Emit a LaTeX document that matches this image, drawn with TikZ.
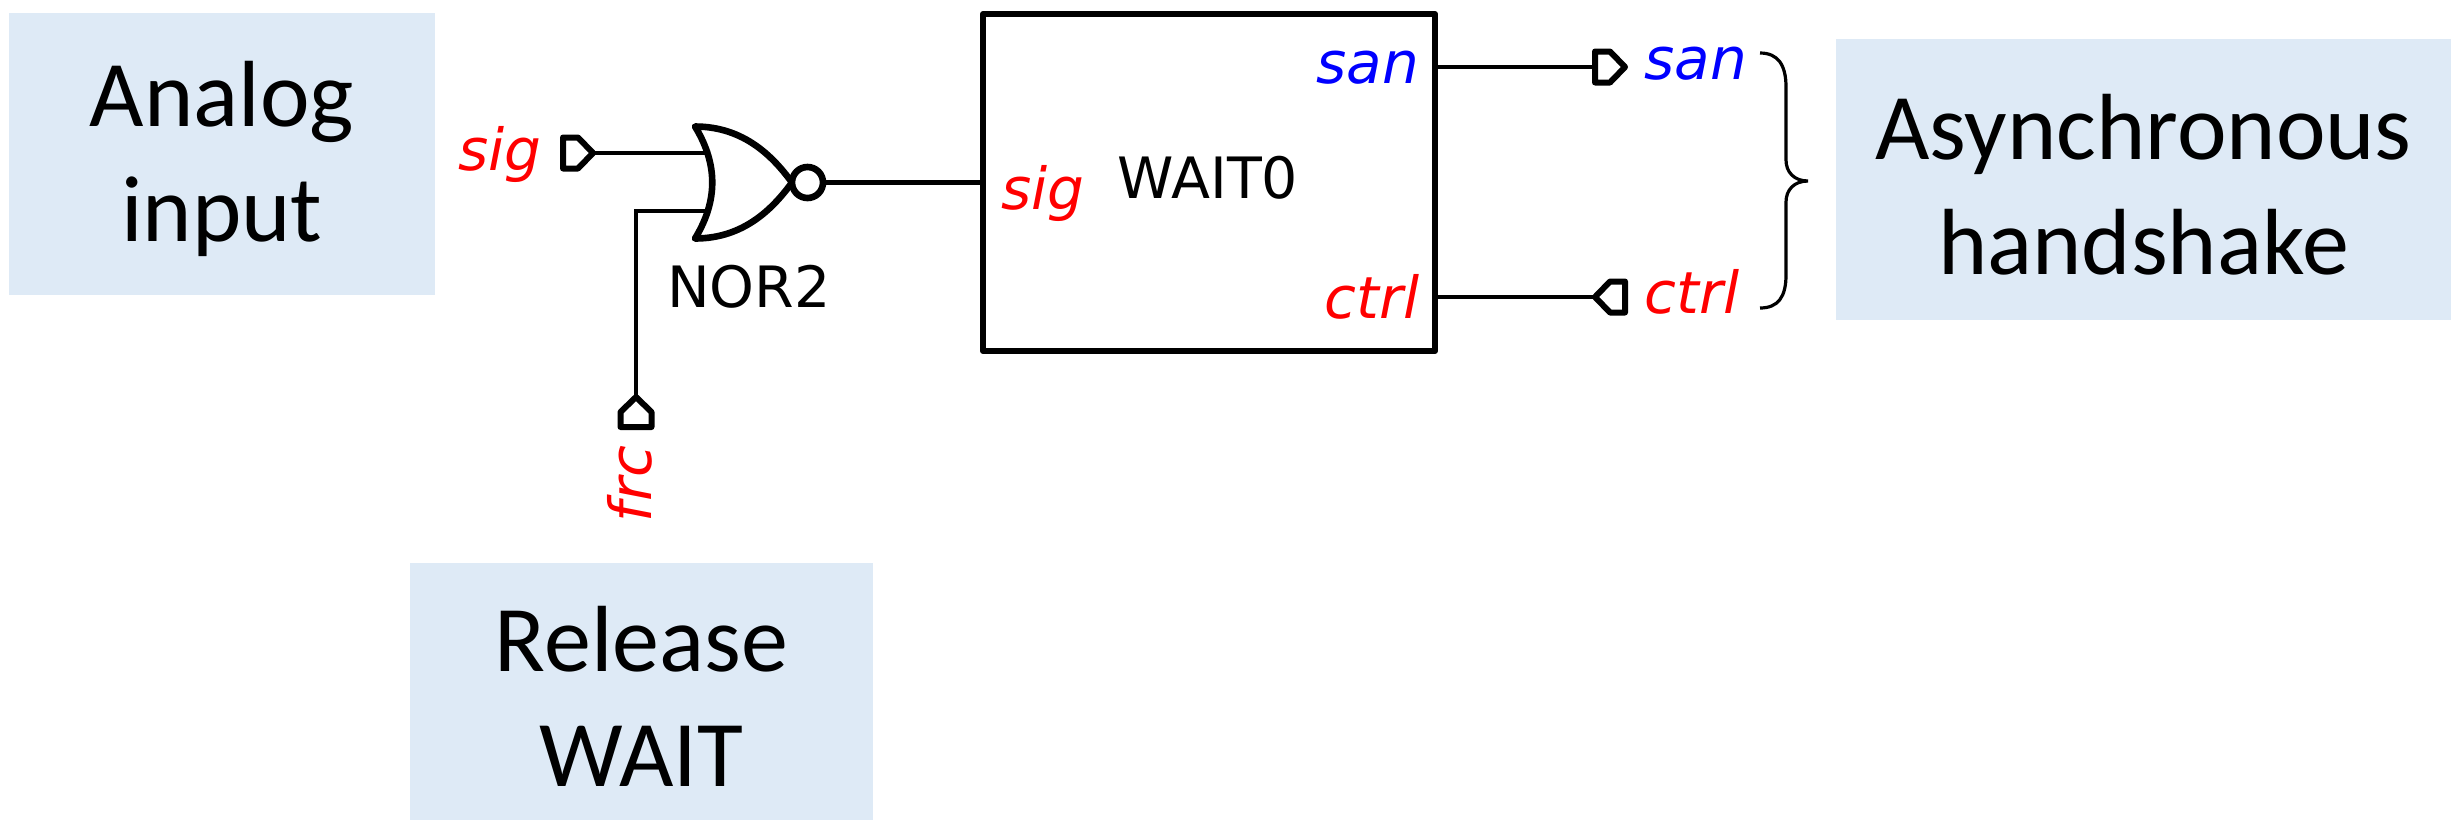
\documentclass[tikz,border=0pt]{standalone}
\usepackage{fontspec}
\setmainfont{Carlito}
\newfontfamily\dvfont{DejaVu Sans}
\definecolor{infofill}{RGB}{222,234,246}
\tikzset{
  infobox/.style={fill=infofill, draw=none, inner sep=0pt},
  infotext/.style={inner sep=0pt, align=center, yshift=-2.5pt,
     font=\fontsize{47}{57.5}\selectfont},
  wireline/.style={line width=2.3pt},
  symline/.style={line width=3pt, line join=round},
  gateline/.style={line width=3.3pt, line join=round},
  bracel/.style={line width=1.6pt},
  pinlbl/.style={inner sep=0pt, anchor=base, font=\dvfont\itshape\fontsize{29}{34}\selectfont},
  cellname/.style={inner sep=0pt, anchor=base, font=\dvfont\fontsize{28.5}{34}\selectfont},
  pinR/.pic={\draw[symline] (0,-15.5) -- (15,-15.5) -- (30,0) -- (15,15.5) -- (0,15.5) -- cycle;
     \coordinate (-tip) at (30,0); \coordinate (-base) at (0,0);},
  pinL/.pic={\draw[symline] (0,0) -- (15,-15.5) -- (30,-15.5) -- (30,15.5) -- (15,15.5) -- cycle;
     \coordinate (-tip) at (0,0);},
  pinU/.pic={\draw[symline] (0,0) -- (15.5,15) -- (15.5,30) -- (-15.5,30) -- (-15.5,15) -- cycle;
     \coordinate (-tip) at (0,0);},
}
\begin{document}
\begin{tikzpicture}[x=0.5pt,y=-0.5pt]
\useasboundingbox (0,0) rectangle (2451,821);

% information boxes
\node[infobox, minimum width=213pt, minimum height=141pt] (analog) at (222,154) {};
\node[infotext] (analogtxt) at (analog.center) {Analog\\input};
\node[infobox, minimum width=231.5pt, minimum height=128.5pt] (release) at (641.5,691.5) {};
\node[infotext] (releasetxt) at (release.center) {Release\\WAIT};
\node[infobox, minimum width=307.5pt, minimum height=140.5pt] (async) at (2143.5,179.5) {};
\node[infotext] (asynctxt) at (async.center) {Asynchronous\\handshake};

% pins
\pic (sigpin) at (563,153) {pinR};
\pic (sanpin) at (1595,67) {pinR};
\pic (ctrlpin) at (1595,297) {pinL};
\pic (frcpin) at (636,397) {pinU};

% NOR gate
\draw[gateline] (695,126.5) .. controls (718,164) and (718,201) .. (695,238.5)
   .. controls (745,238.5) and (774,207) .. (792,182.5)
   .. controls (774,158) and (745,126.5) .. (695,126.5) -- cycle;
\coordinate (norin1) at (707,153);
\coordinate (norin2) at (707,211);
\node[circle, draw, gateline, fill=white, minimum size=15.5pt, inner sep=0pt] (bub) at (807.5,182.5) {};
\node[cellname] (norname) at (749,307) {NOR2};

% WAIT0 cell
\node[draw, symline, minimum width=226pt, minimum height=168.5pt, inner sep=0pt] (wait) at (1209,182.5) {};
\node[cellname] (waitname) at (1208,198) {WAIT0};
\node[pinlbl, text=red] (sigin) at (1043,209) {sig};
\node[pinlbl, text=blue] (sanin) at (1368,83) {san};
\node[pinlbl, text=red] (ctrlin) at (1372,318) {ctrl};

% outer pin labels
\node[pinlbl, text=red] (sigout) at (500,170) {sig};
\node[pinlbl, text=blue] (sanout) at (1696,79) {san};
\node[pinlbl, text=red] (ctrlout) at (1692,313) {ctrl};
\node[pinlbl, text=red, rotate=90] (frcout) at (651,484) {frc};

% wires
\draw[wireline] (sigpin-tip) -- (norin1);
\draw[wireline] (frcpin-tip) |- (norin2);
\draw[wireline] (bub.east) -- (bub.east -| wait.west);
\draw[wireline] (wait.east |- sanpin-base) -- (sanpin-base);
\draw[wireline] (wait.east |- ctrlpin-tip) -- (ctrlpin-tip);

% brace
\draw[bracel] (1760,53) .. controls (1778,53) and (1786,65) .. (1786,87) -- (1786,160)
   .. controls (1786,172) and (1794,181) .. (1808,181)
   .. controls (1794,181) and (1786,190) .. (1786,202) -- (1786,275)
   .. controls (1786,297) and (1778,308) .. (1760,308);
\end{tikzpicture}
\end{document}
